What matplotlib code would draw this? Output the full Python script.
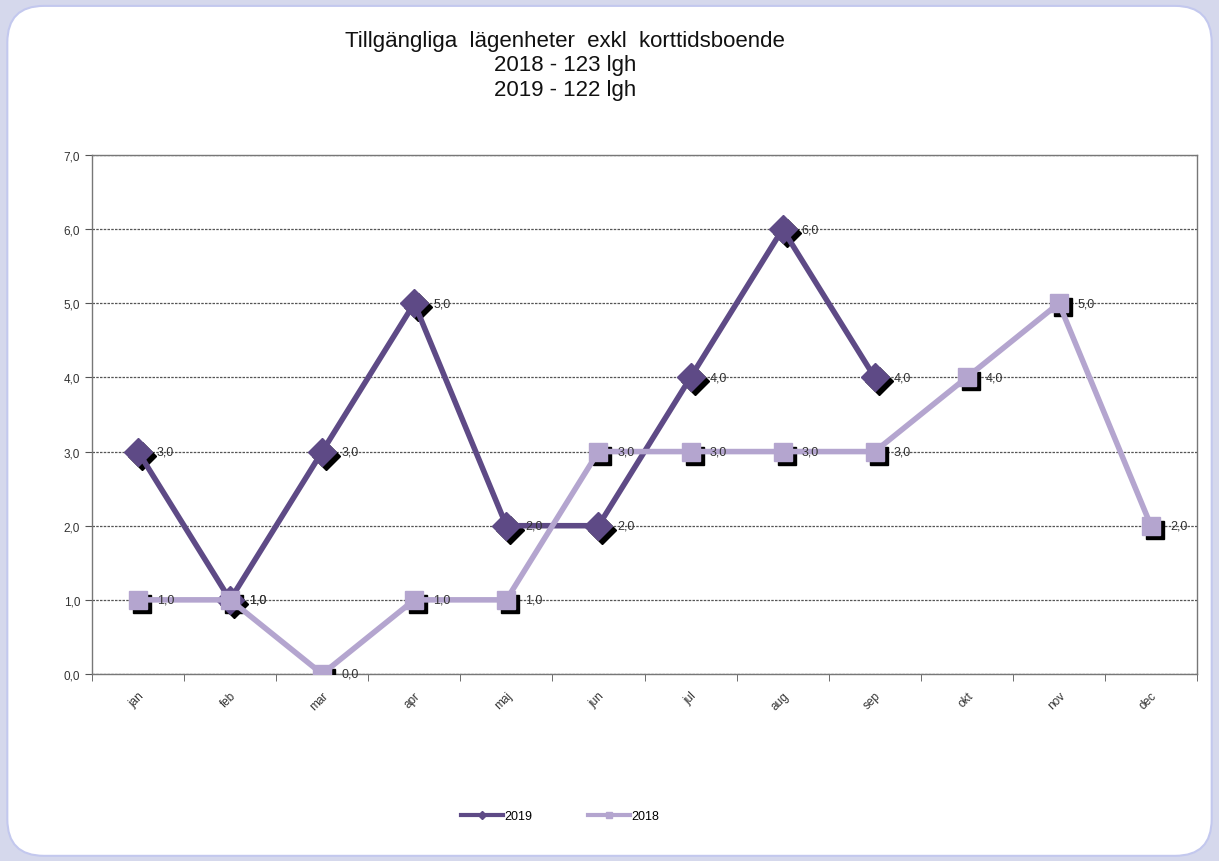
import matplotlib
matplotlib.use("Agg")
import matplotlib.pyplot as plt
import matplotlib.transforms as mtransforms
from matplotlib.patches import FancyBboxPatch
import numpy as np

months = ["jan", "feb", "mar", "apr", "maj", "jun", "jul", "aug", "sep", "okt", "nov", "dec"]
values_2019 = [3, 1, 3, 5, 2, 2, 4, 6, 4]
values_2018 = [1, 1, 0, 1, 1, 3, 3, 3, 3, 4, 5, 2]
title_lines = ["Tillgängliga  lägenheter  exkl  korttidsboende", "2018 - 123 lgh", "2019 - 122 lgh"]

plt.rcParams['font.family'] = ['Liberation Sans', 'DejaVu Sans']

c2019 = "#5e4a86"
c2018 = "#b4a5cf"

fig = plt.figure(figsize=(12.19, 8.62), dpi=100)
fig.patch.set_facecolor("#d5d8ec")
panel = FancyBboxPatch((0.006, 0.006), 0.988, 0.986, boxstyle="round,pad=0,rounding_size=0.03",
                       transform=fig.transFigure, facecolor="white", edgecolor="#c3c8ee",
                       linewidth=1.5, mutation_aspect=1219/862, zorder=-10)
fig.patches.append(panel)

ax = fig.add_axes([92/1219, 1-675/862, (1197-92)/1219, (675-156)/862])
ax.set_facecolor("none")
ax.set_zorder(2)

x19 = np.arange(len(values_2019))
x18 = np.arange(len(values_2018))

shadow = mtransforms.ScaledTranslation(4/100, -4/100, fig.dpi_scale_trans)

# shadows
ax.plot(x19, values_2019, linestyle="none", marker="D", markersize=14, color="black",
        transform=ax.transData + shadow, zorder=3)
ax.plot(x18, values_2018, linestyle="none", marker="s", markersize=13.5, color="black",
        transform=ax.transData + shadow, zorder=3)

ax.plot(x19, values_2019, color=c2019, linewidth=4, marker="D", markersize=14, zorder=4, label="2019")
ax.plot(x18, values_2018, color=c2018, linewidth=4, marker="s", markersize=13.5, zorder=5, label="2018")

lbl_off = mtransforms.ScaledTranslation(19/100, 0, fig.dpi_scale_trans)
for xs, vs in ((x19, values_2019), (x18, values_2018)):
    for xi, v in zip(xs, vs):
        ax.text(xi, v, f"{v:.1f}".replace(".", ","), transform=ax.transData + lbl_off,
                ha="left", va="center", fontsize=9, color="#333333", zorder=6)

ax.set_xlim(-0.5, len(months) - 0.5)
ax.set_ylim(0, 7)
ax.set_yticks(range(0, 8))
ax.set_yticklabels([f"{v:.1f}".replace(".", ",") for v in range(0, 8)], fontsize=8.5, color="#333333")
ax.set_xticks(np.arange(len(months)))
ax.set_xticklabels(months, rotation=45, ha="right", rotation_mode="anchor", fontsize=8.5, color="#333333")
ax.tick_params(axis="x", which="major", length=0, pad=11)
ax.set_xticks(np.arange(-0.5, len(months)), minor=True)
ax.tick_params(axis="x", which="minor", length=5, color="#555555", direction="out")
ax.tick_params(axis="y", length=5, color="#555555", direction="out")
ax.grid(axis="y", linestyle=(0, (2, 1)), color="#555555", linewidth=0.9)
ax.set_axisbelow(True)
for s in ax.spines.values():
    s.set_color("#777777")
    s.set_linewidth(1.0)

fig.text(565/1219, 1-66/862, "\n".join(title_lines), ha="center", va="center",
         fontsize=16, linespacing=1.22, color="#111111")

leg_handles = [
    plt.Line2D([], [], color=c2019, linewidth=3, marker="D", markersize=4),
    plt.Line2D([], [], color=c2018, linewidth=3, marker="s", markersize=5),
]
fig.legend(leg_handles, ["2019", "2018"], loc="center", bbox_to_anchor=(560/1219, 1-817/862),
           ncol=2, frameon=False, fontsize=9, handlelength=3.4, handletextpad=0.1,
           columnspacing=4.4)

fig.savefig("out.png", dpi=100, facecolor=fig.get_facecolor())
